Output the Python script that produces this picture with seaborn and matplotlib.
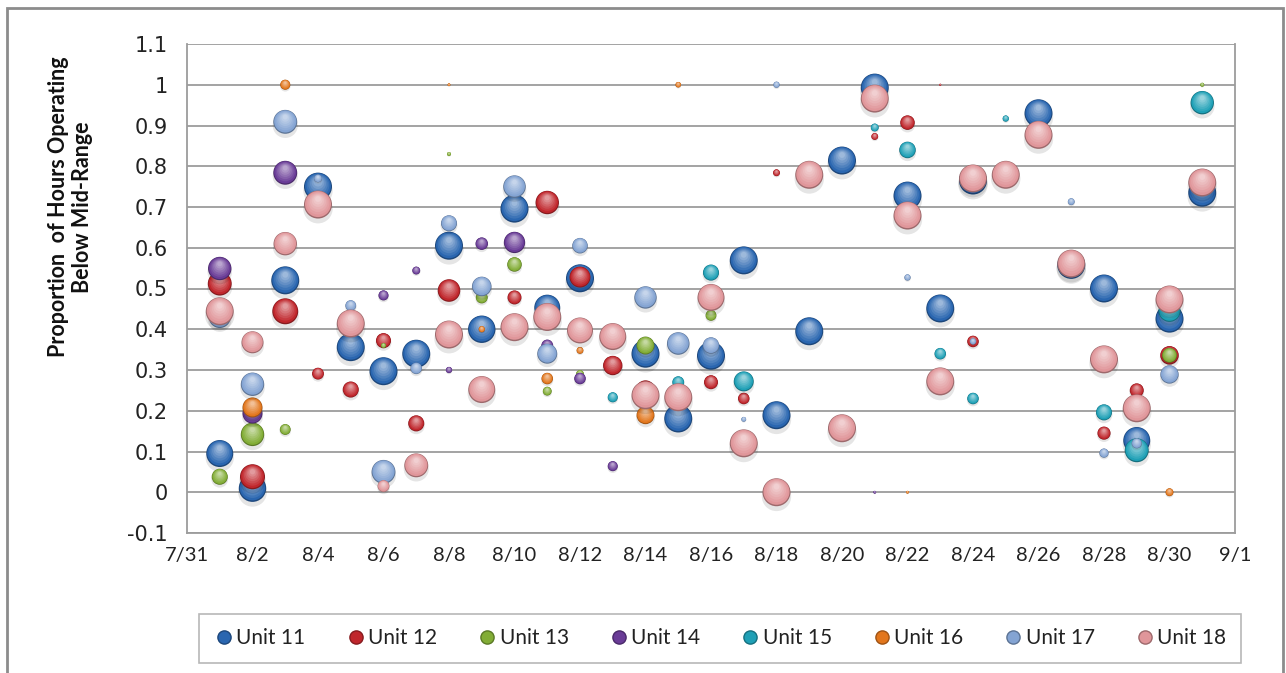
import numpy as np
import pandas as pd
import matplotlib
matplotlib.use("Agg")
import matplotlib.pyplot as plt
from matplotlib.colors import to_rgb
from matplotlib.lines import Line2D
from matplotlib.patches import Rectangle
import seaborn as sns

# ---- data: day of August, proportion, bubble size (0-100) ----
u11_day = [1, 2, 3, 4, 5, 6, 7, 8, 9, 10, 11, 12, 14, 15, 16, 17, 18, 19, 20, 21, 22, 23, 24, 26, 27, 28, 29, 30, 31]
u11_val = [0.095, 0.01, 0.52, 0.75, 0.356, 0.297, 0.34, 0.605, 0.40, 0.696, 0.453, 0.525, 0.34, 0.181, 0.335,
           0.569, 0.189, 0.395, 0.814, 0.993, 0.728, 0.451, 0.765, 0.93, 0.558, 0.50, 0.127, 0.426, 0.735]
u11_size = [93, 96, 100, 100, 100, 100, 100, 100, 96, 100, 86, 100, 100, 100, 100,
            100, 100, 100, 100, 100, 100, 100, 100, 100, 100, 100, 93, 100, 100]

u12_day = [1, 2, 3, 4, 5, 6, 7, 8, 10, 11, 12, 13, 14, 16, 17, 18, 21, 22, 23, 24, 28, 29, 30]
u12_val = [0.512, 0.038, 0.444, 0.291, 0.252, 0.372, 0.169, 0.495, 0.478, 0.711, 0.528, 0.311, 0.25, 0.27,
           0.23, 0.784, 0.873, 0.907, 1.0, 0.37, 0.145, 0.25, 0.336]
u12_size = [73, 80, 86, 18, 33, 29, 33, 65, 25, 70, 56, 48, 51, 25, 17, 6, 6, 27, 0.5, 17, 22, 25, 44]

u13_day = [1, 2, 3, 6, 8, 9, 10, 11, 12, 14, 16, 30, 31]
u13_val = [0.038, 0.142, 0.154, 0.36, 0.83, 0.478, 0.559, 0.248, 0.29, 0.36, 0.434, 0.336, 1.0]
u13_size = [33, 70, 15, 3, 2, 18, 27, 10, 8, 41, 15, 28, 2]

u14_day = [1, 2, 3, 6, 7, 8, 9, 10, 11, 12, 13, 21]
u14_val = [0.549, 0.193, 0.784, 0.483, 0.544, 0.30, 0.61, 0.613, 0.36, 0.279, 0.064, 0.0]
u14_size = [70, 51, 73, 13, 8, 5, 20, 58, 18, 17, 13, 1]

u15_day = [13, 15, 16, 17, 21, 22, 23, 24, 25, 28, 29, 30, 31]
u15_val = [0.233, 0.27, 0.539, 0.272, 0.895, 0.84, 0.34, 0.23, 0.917, 0.196, 0.103, 0.445, 0.956]
u15_size = [13, 18, 33, 51, 8, 35, 17, 17, 5, 33, 73, 62, 70]

u16_day = [2, 3, 8, 9, 11, 12, 14, 15, 22, 30]
u16_val = [0.208, 1.0, 1.0, 0.40, 0.279, 0.348, 0.189, 1.0, 0.0, 0.0]
u16_size = [51, 13, 1, 5, 17, 6, 41, 4, 1, 8]

u17_day = [1, 2, 3, 4, 5, 6, 7, 8, 9, 10, 11, 12, 14, 15, 16, 17, 18, 22, 24, 27, 28, 29, 30]
u17_val = [0.43, 0.265, 0.909, 0.77, 0.458, 0.05, 0.304, 0.66, 0.505, 0.75, 0.34, 0.605, 0.478, 0.365,
           0.36, 0.179, 1.0, 0.527, 0.37, 0.713, 0.096, 0.12, 0.289]
u17_size = [62, 70, 73, 8, 15, 73, 17, 33, 49, 65, 51, 31, 64, 65, 35, 3, 5, 5, 5, 6, 11, 13, 43]

u18_day = list(range(1, 32))
u18_val = [0.444, 0.368, 0.61, 0.706, 0.414, 0.015, 0.066, 0.387, 0.252, 0.405, 0.43, 0.397, 0.382, 0.238,
           0.233, 0.478, 0.12, 0.0, 0.779, 0.157, 0.966, 0.679, 0.272, 0.77, 0.779, 0.877, 0.561, 0.326,
           0.206, 0.473, 0.76]
u18_size = [100, 62, 70, 100, 100, 18, 73, 100, 93, 100, 100, 86, 93, 100,
            100, 93, 100, 100, 100, 100, 100, 100, 100, 100, 100, 100, 100, 100,
            100, 100, 100]

units = ["Unit 11", "Unit 12", "Unit 13", "Unit 14", "Unit 15", "Unit 16", "Unit 17", "Unit 18"]
colors = ["#2A66B0", "#C0262C", "#82AD36", "#6A3C97", "#1FA0B6", "#E2761C", "#84A4D3", "#E0969A"]

series = [(u11_day, u11_val, u11_size), (u12_day, u12_val, u12_size), (u13_day, u13_val, u13_size),
          (u14_day, u14_val, u14_size), (u15_day, u15_val, u15_size), (u16_day, u16_val, u16_size),
          (u17_day, u17_val, u17_size), (u18_day, u18_val, u18_size)]

frames = []
for name, (d, v, s) in zip(units, series):
    frames.append(pd.DataFrame({"unit": name, "day": d, "prop": v, "bubble": s}))
df = pd.concat(frames, ignore_index=True)
df["date"] = pd.Timestamp("2011-08-01") + pd.to_timedelta(df["day"] - 1, unit="D")

# ---- figure ----
sns.set_style("white")
plt.rcParams["font.family"] = ["Lato", "DejaVu Sans"]

W, H = 1286, 673
fig = plt.figure(figsize=(W / 100, H / 100), dpi=100)
ax = fig.add_axes([187 / W, 1 - 533 / H, (1235 - 187) / W, 489 / H])

ymin, ymax = -0.1, 1.1
SMAX = 406.0          # marker area (pt^2) for bubble size 100
data_per_px = (ymax - ymin) / 489.0


def blend(c, t):
    c = np.array(to_rgb(c))
    return tuple(c + (1 - c) * t)


def shade(c, t):
    return tuple(np.array(to_rgb(c)) * t)


for name, col in zip(units, colors):
    sub = df[df["unit"] == name].copy()
    r_px = 14 * np.sqrt(sub["bubble"] / 100.0)
    # soft shadow
    sh = sub.copy()
    sh["prop"] = sub["prop"] - 0.3 * r_px * data_per_px
    sns.scatterplot(data=sh, x="date", y="prop", size="bubble", sizes=(0, SMAX * 1.1),
                    size_norm=(0, 100), color="black", alpha=0.10, edgecolor="none",
                    linewidth=0, legend=False, ax=ax)
    # dark rim
    sns.scatterplot(data=sub, x="date", y="prop", size="bubble", sizes=(0, SMAX),
                    size_norm=(0, 100), color=shade(col, 0.70), edgecolor="none",
                    linewidth=0, legend=False, ax=ax)
    # body + highlight
    for k in range(7):
        f = 0.93 - k * 0.12
        t = 0.0 if k == 0 else 0.09 * k
        lay = sub.copy()
        lay["prop"] = sub["prop"] + (1 - f) * r_px * 0.5 * data_per_px
        sns.scatterplot(data=lay, x="date", y="prop", size="bubble", sizes=(0, SMAX * f * f),
                        size_norm=(0, 100), color=blend(col, t), edgecolor="none",
                        linewidth=0, legend=False, ax=ax)

# ---- axes styling ----
ax.set_ylim(ymin, ymax)
ax.set_yticks(np.round(np.arange(-0.1, 1.11, 0.1), 1))
ax.set_yticklabels(["-0.1", "0", "0.1", "0.2", "0.3", "0.4", "0.5", "0.6", "0.7", "0.8", "0.9", "1", "1.1"],
                   family="DejaVu Sans")

start, end = pd.Timestamp("2011-07-31"), pd.Timestamp("2011-09-01")
ax.set_xlim(start, end)
major = pd.date_range(start, end, freq="2D")
ax.set_xticks(major)
ax.set_xticklabels([f"{d.month}/{d.day}" for d in major])
ax.set_xticks(pd.date_range(start, end, freq="D"), minor=True)

ax.grid(axis="y", color="#9c9c9c", linewidth=1.3)
ax.grid(axis="x", visible=False)
ax.set_axisbelow(True)
for side in ["left", "bottom", "right"]:
    ax.spines[side].set_color("#9c9c9c")
    ax.spines[side].set_linewidth(1.3)
ax.spines["top"].set_visible(False)

ax.tick_params(axis="both", which="both", direction="out", color="#9c9c9c", width=1.0)
ax.tick_params(axis="x", which="both", length=7, pad=3, labelsize=14.5, labelcolor="#222222")
ax.tick_params(axis="y", length=5, pad=9, labelsize=15, labelcolor="#222222")
ax.set_xlabel("")
ax.set_ylabel("")

fig.text(0.055, 1 - 207 / H, "Proportion  of Hours Operating\nBelow Mid-Range", rotation=90,
         ha="center", va="center", multialignment="center", fontsize=15.5, fontweight="bold",
         color="#111111", linespacing=1.2)

# ---- legend ----
handles = [Line2D([], [], marker="o", linestyle="", markersize=9.5,
                  markerfacecolor=c, markeredgecolor=shade(c, 0.70)) for c in colors]
leg = fig.legend(handles, units, ncol=8, loc="center",
                 bbox_to_anchor=(199 / W, 1 - 667 / H, (1241 - 199) / W, 57 / H),
                 mode="expand", frameon=True, fancybox=False, edgecolor="#a6a6a6",
                 fontsize=15, handletextpad=0.1, borderpad=0.7, borderaxespad=0,
                 handlelength=1.0)
leg.get_frame().set_linewidth(1.2)
for txt in leg.get_texts():
    txt.set_color("#222222")

# outer chart border
fig.add_artist(Rectangle((7 / W, -0.02), (1283 - 7) / W, (H - 8) / H + 0.02, transform=fig.transFigure,
                         fill=False, edgecolor="#8c8c8c", linewidth=2.0))

fig.savefig("out.png", dpi=100)
